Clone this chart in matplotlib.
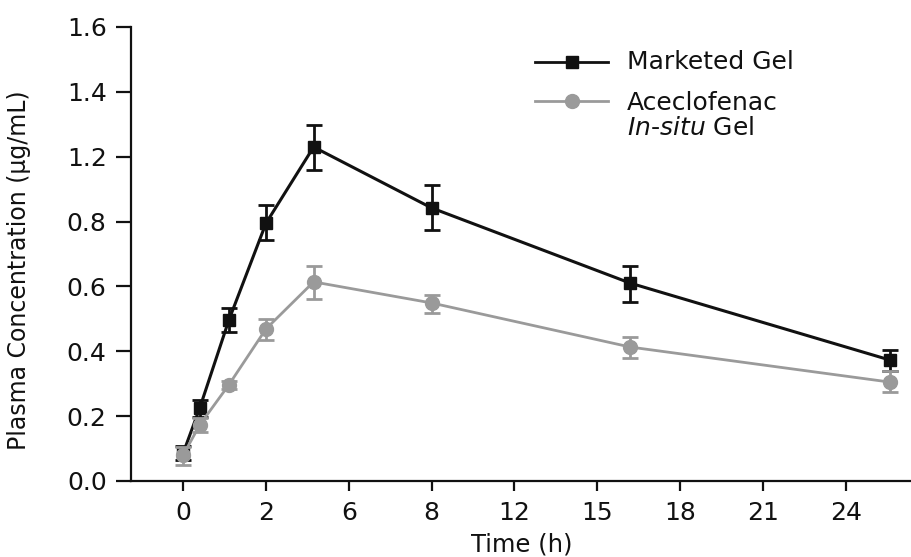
import numpy as np
import matplotlib
matplotlib.use("Agg")
import matplotlib.pyplot as plt
from matplotlib.lines import Line2D

plt.rcParams['font.family'] = ['DejaVu Sans']
plt.rcParams['mathtext.fontset'] = 'custom'
plt.rcParams['mathtext.it'] = 'DejaVu Sans:italic'
plt.rcParams['mathtext.rm'] = 'DejaVu Sans'

# Sampling times (h)
time_h = [0, 0.4, 1.1, 2, 4.3, 8, 16.2, 25.6]

# Marketed gel: mean and error (lower / upper)
marketed = [0.086, 0.225, 0.495, 0.795, 1.23, 0.884, 0.61, 0.373]
marketed_lo = [0.021, 0.028, 0.037, 0.053, 0.112, 0.11, 0.058, 0.034]
marketed_hi = [0.022, 0.025, 0.040, 0.107, 0.068, 0.141, 0.053, 0.031]

# Aceclofenac in-situ gel: mean and error (lower / upper)
insitu = [0.08, 0.173, 0.296, 0.469, 0.614, 0.549, 0.413, 0.305]
insitu_lo = [0.031, 0.022, 0.012, 0.034, 0.053, 0.031, 0.034, 0.031]
insitu_hi = [0.025, 0.022, 0.012, 0.031, 0.049, 0.025, 0.031, 0.034]

x_ticks = [0, 2, 6, 8, 12, 15, 18, 21, 24]
y_ticks = [0.0, 0.2, 0.4, 0.6, 0.8, 1.2, 1.4, 1.6]


def piecewise_scale(knots):
    """Equal spacing between consecutive knots, linear extrapolation at the ends."""
    knots = np.asarray(knots, float)
    idx = np.arange(len(knots), dtype=float)

    def forward(v):
        v = np.asarray(v, float)
        out = np.interp(v, knots, idx)
        out = np.where(v < knots[0], (v - knots[0]) / (knots[1] - knots[0]), out)
        out = np.where(v > knots[-1],
                       idx[-1] + (v - knots[-1]) / (knots[-1] - knots[-2]), out)
        return out

    def inverse(u):
        u = np.asarray(u, float)
        out = np.interp(u, idx, knots)
        out = np.where(u < 0, knots[0] + u * (knots[1] - knots[0]), out)
        out = np.where(u > idx[-1],
                       knots[-1] + (u - idx[-1]) * (knots[-1] - knots[-2]), out)
        return out

    return forward, inverse


W, H = 912, 557
fig = plt.figure(figsize=(W / 100, H / 100), dpi=100)
ax = fig.add_axes([131 / W, (H - 481) / H, (912 - 131) / W, (481 - 27) / H])

ax.set_xscale('function', functions=piecewise_scale(x_ticks))
ax.set_yscale('function', functions=piecewise_scale(y_ticks))

black = '#111111'
grey = '#9a9a9a'

ax.errorbar(time_h, marketed, yerr=[marketed_lo, marketed_hi], color=black,
            lw=2.2, marker='s', ms=9, mfc=black, mec=black,
            ecolor=black, elinewidth=2.0, capsize=6, capthick=2.0, zorder=3)
ax.errorbar(time_h, insitu, yerr=[insitu_lo, insitu_hi], color=grey,
            lw=2.0, marker='o', ms=10, mfc=grey, mec=grey,
            ecolor=grey, elinewidth=2.0, capsize=6, capthick=2.0, zorder=4)

ax.set_xlim(-1.26, 26.4)
ax.set_ylim(0, 1.6)
ax.set_xticks(x_ticks)
ax.set_xticklabels([str(v) for v in x_ticks])
ax.set_yticks(y_ticks)
ax.set_yticklabels([f'{v:.1f}' for v in y_ticks])
ax.minorticks_off()

for side in ('top', 'right'):
    ax.spines[side].set_visible(False)
for side in ('left', 'bottom'):
    ax.spines[side].set_linewidth(1.6)
    ax.spines[side].set_color(black)
ax.spines['left'].set_bounds(0, 1.6)

ax.tick_params(axis='y', direction='out', length=10.5, width=1.6, pad=7,
               labelsize=18, colors=black)
ax.tick_params(axis='x', direction='out', length=7.5, width=1.6, pad=7,
               labelsize=18, colors=black)

ax.set_xlabel('Time (h)', fontsize=17.5, labelpad=5, color=black)
ax.set_ylabel('Plasma Concentration (µg/mL)', fontsize=17, color=black)
ax.yaxis.set_label_coords(-0.128, 0.465)

# Legend drawn in axes coordinates
def fx(px):
    return (px - 131) / (912 - 131)

def fy(py):
    return (481 - py) / (481 - 27)

for py, col, mk, ms in ((62, black, 's', 9), (101, grey, 'o', 10)):
    ax.add_line(Line2D([fx(535), fx(608)], [fy(py), fy(py)], transform=ax.transAxes,
                       color=col, lw=2.0, clip_on=False))
    ax.add_line(Line2D([fx(572)], [fy(py)], transform=ax.transAxes, color=col,
                       marker=mk, ms=ms, mfc=col, mec=col, lw=0, clip_on=False))

ax.text(fx(627), fy(62), 'Marketed Gel', transform=ax.transAxes,
        fontsize=18, va='center', ha='left', color=black)
ax.text(fx(627), fy(103), 'Aceclofenac', transform=ax.transAxes,
        fontsize=18, va='center', ha='left', color=black)
ax.text(fx(627), fy(128), r'$\mathit{In}$-$\mathit{situ}$ Gel', transform=ax.transAxes,
        fontsize=18, va='center', ha='left', color=black)

fig.savefig('out.png', dpi=100, facecolor='white')
